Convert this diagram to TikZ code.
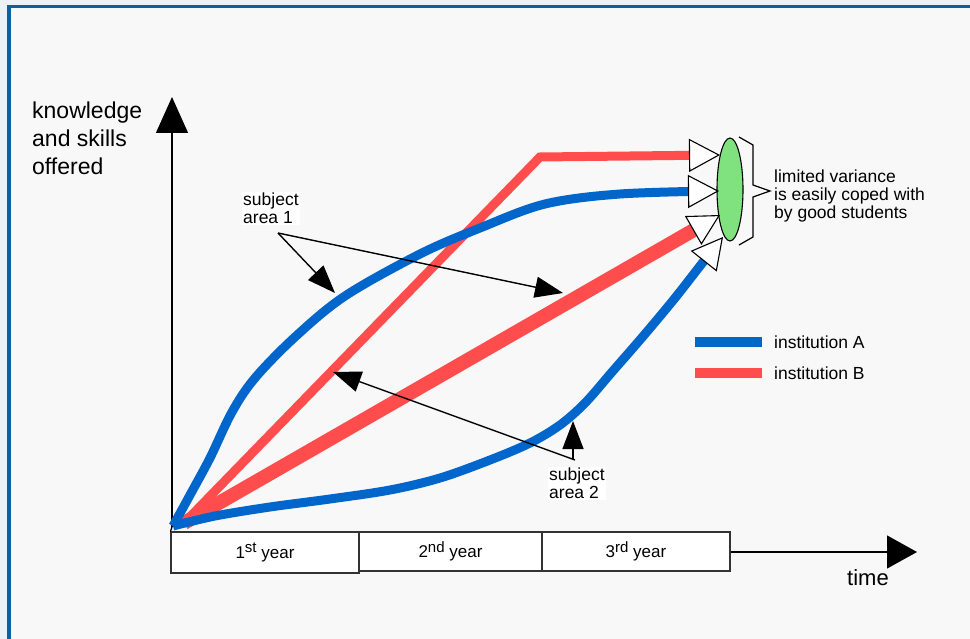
\documentclass[tikz,border=0pt]{standalone}
\usepackage{fontspec}
\setmainfont{Liberation Sans}
\usetikzlibrary{arrows.meta,shapes.geometric}
\definecolor{instA}{HTML}{0066CC}
\definecolor{instB}{HTML}{FF4D4D}
\definecolor{goalgreen}{HTML}{80E27E}
\definecolor{framec}{HTML}{0B62A0}
\definecolor{paper}{HTML}{F8F8F8}
\definecolor{outside}{HTML}{EEF2F5}
\definecolor{boxline}{HTML}{333333}
\newcommand{\ordsup}[1]{\raisebox{0.32em}{\fontsize{15}{15}\selectfont #1}}

\begin{document}
\begin{tikzpicture}[x=1pt,y=-1pt,
  txt/.style={font=\fontsize{17.5}{18}\selectfont, inner sep=0pt, align=left},
  bigtxt/.style={font=\fontsize{23}{28}\selectfont, inner sep=0pt, align=left},
  yearbox/.style={draw=boxline, line width=1.1pt, fill=white, inner sep=0pt,
    minimum height=40pt, font=\fontsize{17}{17}\selectfont},
  axis/.style={line width=1.3pt, draw=black},
  annot/.style={line width=1.4pt, -{Triangle[length=28pt,width=21pt]}},
  goaltip/.style={-{Triangle[length=31pt,width=33pt,fill=white,color=black,line width=1.1pt]}},
  lineA/.style={draw=instA, line width=9pt},
  lineB/.style={draw=instB, line width=9pt},
  lineBthick/.style={draw=instB, line width=14pt},
  label/.style={txt, fill=white, inner sep=1pt}
]
% page and frame
\useasboundingbox (0,0) rectangle (970,639);
\fill[outside] (0,0) rectangle (970,639);
\fill[paper] (9,7) rectangle (970,639);
\draw[framec, line width=3.6pt] (9.2,645) -- (9.2,6.7) -- (976,6.7);

% axes and time scale
\coordinate (O) at (172,527);
\coordinate (ytop) at (172,97);
\node[yearbox, minimum width=188pt, minimum height=41pt] (y1) at (265,552.5) {1\ordsup{st} year};
\node[yearbox, minimum width=183pt, minimum height=39pt] (y2) at (450.5,551.5) {2\ordsup{nd} year};
\node[yearbox, minimum width=188pt, minimum height=39pt] (y3) at (636,551.5) {3\ordsup{rd} year};
\coordinate (xtip) at (917,552);
\draw[axis, -{Triangle[length=36pt,width=32pt]}] (O) -- (ytop);
\draw[axis] (O) -- (y1.north west);
\draw[axis, -{Triangle[length=30pt,width=33pt]}] (y3.east |- xtip) -- (xtip);
\node[font=\fontsize{22}{22}\selectfont, inner sep=0pt] (time) at (868,578) {time};
\node[bigtxt, anchor=north west] (ylab) at (32,102) {knowledge\\and skills\\offered};

% goal ellipse and brace
\node[ellipse, draw=black, line width=1.1pt, fill=goalgreen, minimum width=26pt,
  minimum height=103pt, inner sep=0pt] (goal) at (730,189.5) {};
\coordinate (tipB1) at (720,155);
\coordinate (tipA1) at (719,191);
\coordinate (tipB2) at (720,215);
\coordinate (tipA2) at (723,237);
\draw[line width=1.2pt] (739,137) -- (753,145) -- (753,185) -- (770,191)
  -- (753,197) -- (753,237) -- (739,245);
\node[txt, anchor=west] (note) at (774,196) {limited variance\\is easily coped with\\by good students};

% curves
\coordinate (startB) at (184,523);
\coordinate (startA) at (173,526);
\coordinate (kneeB) at (540,157);
\draw[lineBthick, goaltip] (startB) -- (tipB2);
\draw[lineB, goaltip] (startB) -- (kneeB) -- (tipB1);
\draw[lineA, goaltip] plot[smooth, tension=0.55] coordinates {(173,526) (190,495) (210,458)
  (232,412) (255,378) (295,337) (345,296) (420,254) (480,228) (545,204) (620,194) (719,191)};
\draw[lineA, goaltip] plot[smooth, tension=0.55] coordinates {(173,526) (215,516) (270,507)
  (330,499) (390,490) (440,478) (490,460) (530,443) (560,425) (585,403) (612,372) (645,334)
  (675,298) (700,266) (723,237)};

% legend
\coordinate (legA0) at (695,342); \coordinate (legA1) at (762,342);
\coordinate (legB0) at (695,373); \coordinate (legB1) at (762,373);
\draw[lineA, line width=10pt] (legA0) -- (legA1);
\draw[lineB, line width=10pt] (legB0) -- (legB1);
\node[txt, anchor=west] (legAt) at (774,342) {institution A};
\node[txt, anchor=west] (legBt) at (774,373) {institution B};

% subject area annotations
\node[label, anchor=north west] (sa1) at (242,192) {subject\\area 1};
\node[label, anchor=north west] (sa2) at (548,467) {subject\\area 2};
\coordinate (sa1p) at (278,233);
\coordinate (sa2p) at (575,460);
\coordinate (sa2s) at (573,459);
\coordinate (hitA1) at (335,293);
\coordinate (hitB2) at (563,293);
\coordinate (hitB1) at (333,372);
\coordinate (hitA2) at (573,421);
\draw[annot] (sa1p) -- (hitA1);
\draw[annot] (sa1p) -- (hitB2);
\draw[annot] (sa2p) -- (hitB1);
\draw[annot] (sa2s) -- (hitA2);
\end{tikzpicture}
\end{document}
